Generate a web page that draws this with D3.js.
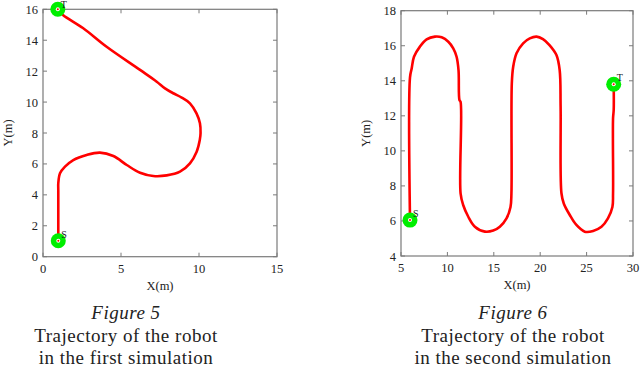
<!DOCTYPE html>
<html>
<head>
<meta charset="utf-8">
<script src="https://cdn.jsdelivr.net/npm/d3@7"></script>
<style>
  body { margin: 0; background: #fff; }
  svg text { font-family: "Liberation Serif", "Times New Roman", serif; fill: #222; }
</style>
</head>
<body>
<svg class="chart" width="640" height="367"></svg>
<script>
// trajectory of the first simulation
var traj1X = [0.98, 0.98, 0.98, 1.09, 1.41, 1.94, 2.8, 3.65, 4.51, 5.37, 6.22, 7.07, 7.93, 8.78, 9.42, 9.85, 10.05, 10.1, 10.06, 9.84, 9.42, 8.89, 8.35, 7.82, 7.29, 6.22, 4.1, 2.56, 1.28, 0.95];
var traj1Y = [1.03, 4.3, 4.75, 5.39, 5.82, 6.25, 6.58, 6.73, 6.51, 5.93, 5.43, 5.22, 5.26, 5.5, 6.04, 6.79, 7.55, 8.0, 8.63, 9.27, 9.92, 10.29, 10.57, 10.89, 11.32, 12.08, 13.56, 14.79, 15.63, 16.0];

// trajectory of the second simulation
var traj2X = [5.97, 5.97, 6.15, 6.4, 7.04, 7.76, 8.66, 9.38, 10.1, 10.63, 10.99, 11.2, 11.3, 11.42, 11.42, 11.7, 12.25, 12.96, 14.04, 14.94, 15.65, 16.37, 16.8, 16.9, 16.94, 17.09, 17.45, 18.16, 18.88, 19.6, 20.3, 21.0, 21.75, 22.1, 22.2, 22.29, 22.54, 23.19, 23.9, 24.8, 25.7, 26.6, 27.3, 27.78, 27.85, 27.85, 27.92, 27.92];
var traj2Y = [6.05, 14.2, 14.7, 15.37, 15.95, 16.36, 16.52, 16.48, 16.23, 15.85, 15.37, 14.6, 12.9, 12.8, 7.58, 6.91, 6.24, 5.67, 5.39, 5.45, 5.67, 6.15, 6.8, 7.58, 13.85, 14.8, 15.57, 16.14, 16.42, 16.52, 16.38, 16.04, 15.47, 14.6, 12.5, 7.58, 7.0, 6.34, 5.77, 5.39, 5.43, 5.67, 6.15, 6.8, 7.58, 11.86, 12.33, 13.8];

var xTicks1 = [0, 5, 10, 15], yTicks1 = [0, 2, 4, 6, 8, 10, 12, 14, 16];
var xTicks2 = [5, 10, 15, 20, 25, 30], yTicks2 = [4, 6, 8, 10, 12, 14, 16, 18];

var caption1 = ["Figure 5", "Trajectory of the robot", "in the first simulation"];
var caption2 = ["Figure 6", "Trajectory of the robot", "in the second simulation"];

var svg = d3.select(".chart");

function panel(box, xs, ys, xTicks, yTicks, caption, capX) {
    var x = d3.scaleLinear().domain(d3.extent(xTicks)).range([box.left, box.right]);
    var y = d3.scaleLinear().domain(d3.extent(yTicks)).range([box.bottom, box.top]);
    var g = svg.append("g");
    var tk = 4;

    // frame
    g.append("rect")
        .attr("x", box.left).attr("y", box.top)
        .attr("width", box.right - box.left).attr("height", box.bottom - box.top)
        .attr("fill", "none").attr("stroke", "#7a7a7a").attr("stroke-width", 1.2);

    // inward ticks on all four sides
    xTicks.forEach(function(v) {
        g.append("line").attr("x1", x(v)).attr("x2", x(v)).attr("y1", box.bottom).attr("y2", box.bottom - tk).attr("stroke", "#7a7a7a");
        g.append("line").attr("x1", x(v)).attr("x2", x(v)).attr("y1", box.top).attr("y2", box.top + tk).attr("stroke", "#7a7a7a");
        g.append("text").attr("x", x(v)).attr("y", box.bottom + 16)
            .attr("text-anchor", "middle").attr("font-size", 12.5).text(v);
    });
    yTicks.forEach(function(v) {
        g.append("line").attr("x1", box.left).attr("x2", box.left + tk).attr("y1", y(v)).attr("y2", y(v)).attr("stroke", "#7a7a7a");
        g.append("line").attr("x1", box.right).attr("x2", box.right - tk).attr("y1", y(v)).attr("y2", y(v)).attr("stroke", "#7a7a7a");
        g.append("text").attr("x", box.left - 5).attr("y", y(v) + 4.5)
            .attr("text-anchor", "end").attr("font-size", 12.5).text(v);
    });

    g.append("text").attr("x", (box.left + box.right) / 2).attr("y", box.bottom + 33)
        .attr("text-anchor", "middle").attr("font-size", 12.5).text("X(m)");
    g.append("text")
        .attr("transform", "translate(" + (box.left - 31) + "," + ((box.top + box.bottom) / 2) + ") rotate(-90)")
        .attr("text-anchor", "middle").attr("font-size", 12.5).text("Y(m)");

    var pts = xs.map(function(d, i) { return [d, ys[i]]; });
    var line = d3.line()
        .x(function(d) { return x(d[0]); })
        .y(function(d) { return y(d[1]); })
        .curve(d3.curveCatmullRom.alpha(0.5));
    g.append("path").datum(pts)
        .attr("d", line)
        .attr("fill", "none").attr("stroke", "#ff0000").attr("stroke-width", 2.6);

    // start / target markers
    [[pts[0], "S"], [pts[pts.length - 1], "T"]].forEach(function(m) {
        var cx = x(m[0][0]), cy = y(m[0][1]);
        g.append("circle").attr("cx", cx).attr("cy", cy).attr("r", 7.5).attr("fill", "#00ee00");
        g.append("circle").attr("cx", cx).attr("cy", cy).attr("r", 2).attr("fill", "#fff");
        g.append("circle").attr("cx", cx).attr("cy", cy).attr("r", 1).attr("fill", "#ff0000");
        g.append("text").attr("x", cx + 3).attr("y", Math.max(cy - 3, 7.5))
            .attr("font-size", 10).text(m[1]);
    });

    caption.forEach(function(t, i) {
        g.append("text").attr("x", capX).attr("y", 319 + i * 22.5)
            .attr("text-anchor", "middle").attr("font-size", 19)
            .attr("letter-spacing", "0.5px")
            .attr("font-style", i === 0 ? "italic" : "normal")
            .text(t);
    });
}

panel({left: 43, right: 277, top: 9.3, bottom: 256.7}, traj1X, traj1Y, xTicks1, yTicks1, caption1, 126);
panel({left: 401, right: 633, top: 10.7, bottom: 256}, traj2X, traj2Y, xTicks2, yTicks2, caption2, 513);
</script>
</body>
</html>
